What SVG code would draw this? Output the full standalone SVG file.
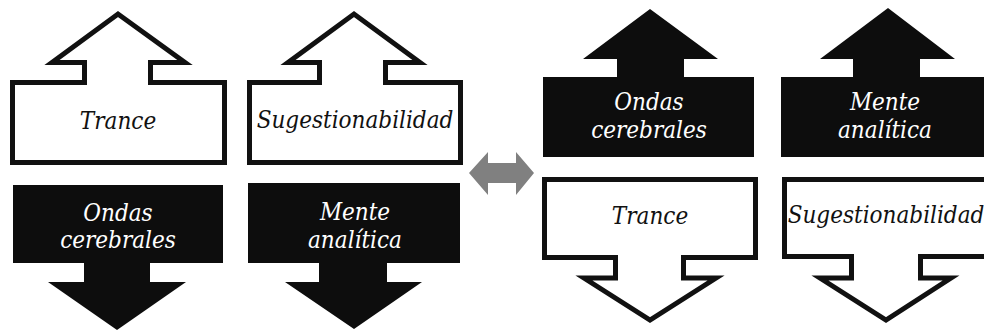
<svg xmlns="http://www.w3.org/2000/svg" width="984" height="333" viewBox="0 0 984 333">
<style>
.out{fill:#fff;stroke:#111;stroke-width:5;stroke-linejoin:miter;stroke-miterlimit:6}
.blk{fill:#0d0d0d;stroke:none}
.tw{fill:#fff}
.tb{fill:#111}
</style>
<rect width="984" height="333" fill="#fff"/>
<g font-family="DejaVu Serif Condensed, DejaVu Serif, serif" font-stretch="condensed" font-style="italic" font-size="24" text-anchor="middle">
<g id="trance-up">
<path class="out" d="M12.5,82.5 H84.5 V62.5 H52 L118,14 L185,62.5 H150.5 V82.5 H224.5 V162.5 H12.5 Z"/>
<text class="tb" x="118" y="129">Trance</text>
</g>
<g id="sugestionabilidad-up">
<path class="out" d="M249.5,82.5 H319.5 V62.5 H288 L354,14 L420,62.5 H385.5 V82.5 H460.5 V162.5 H249.5 Z"/>
<text class="tb" x="355" y="128">Sugestionabilidad</text>
</g>
<g id="ondas-down">
<path class="blk" d="M13,185 H223 V263 H150 V282 H186 L117,330 L48,282 H84 V263 H13 Z"/>
<text class="tw" x="118" y="221">Ondas</text>
<text class="tw" x="118" y="248">cerebrales</text>
</g>
<g id="mente-down">
<path class="blk" d="M248,183 H460 V263 H387 V282 H422 L354,329 L285,282 H319 V263 H248 Z"/>
<text class="tw" x="355" y="220">Mente</text>
<text class="tw" x="355" y="248">analítica</text>
</g>
<g id="connectors">
<path fill="#808080" d="M469,173 L488,152 V163 H516 V152 L534,173 L516,195 V183 H488 V195 Z"/>
</g>
<g id="ondas-up">
<path class="blk" d="M543,77 H617 V59 H583 L650,9 L718,59 H684 V77 H754 V157 H543 Z"/>
<text class="tw" x="649" y="110">Ondas</text>
<text class="tw" x="649" y="138">cerebrales</text>
</g>
<g id="mente-up">
<path class="blk" d="M781,77 H853 V59 H820 L888,8 L955,59 H920 V77 H995 V157 H781 Z"/>
<text class="tw" x="885" y="110">Mente</text>
<text class="tw" x="885" y="138">analítica</text>
</g>
<g id="trance-down">
<path class="out" d="M544.5,179.5 H755.5 V257.5 H683.5 V278 H716 L650,320 L584,278 H615.5 V257.5 H544.5 Z"/>
<text class="tb" x="650" y="224">Trance</text>
</g>
<g id="sugestionabilidad-down">
<path class="out" d="M784.5,179.5 H995 V256.5 H920.5 V278 H951 L886,320 L820,278 H851.5 V256.5 H784.5 Z"/>
<text class="tb" x="886" y="223">Sugestionabilidad</text>
</g>
</g>
</svg>
